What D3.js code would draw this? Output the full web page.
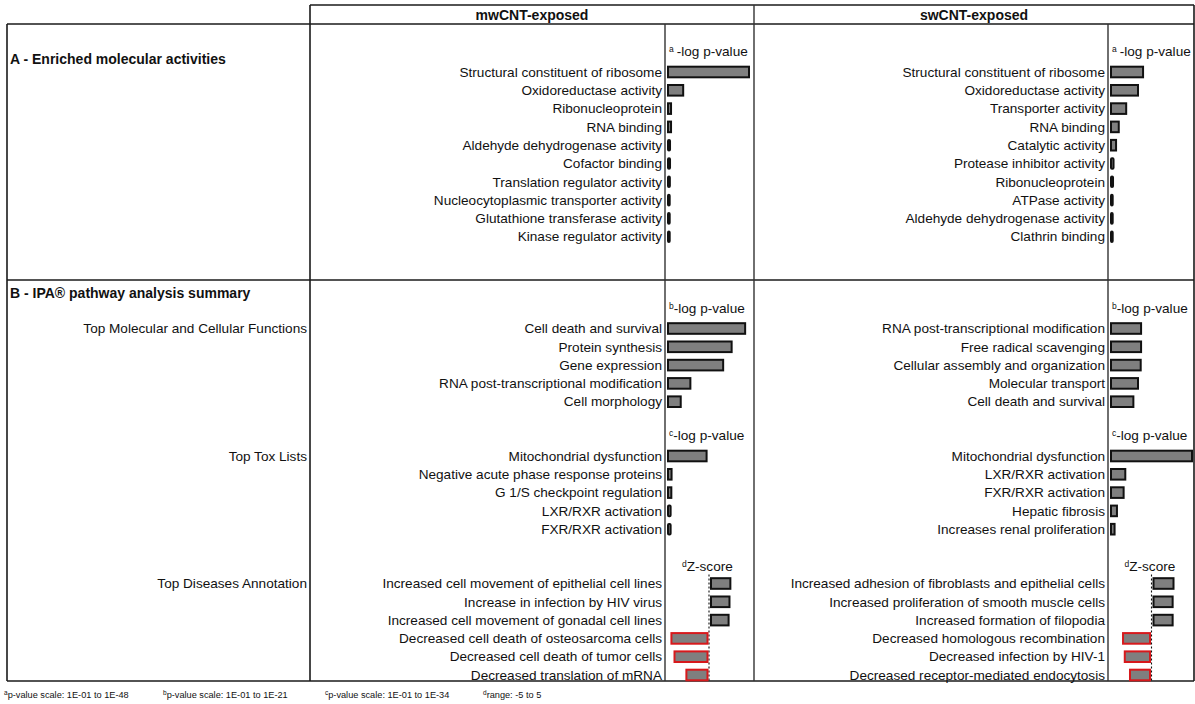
<!DOCTYPE html>
<html>
<head>
<meta charset="utf-8">
<script src="https://cdn.jsdelivr.net/npm/d3@7"></script>
<style>
  html, body { margin: 0; padding: 0; background: #fff; }
  svg { display: block; font-family: "Liberation Sans", Arial, sans-serif; }
</style>
</head>
<body>
<svg id="chart" width="1195" height="704"></svg>
<script>
// ---- Data ----
// A: enriched molecular activities (-log p-value)
const molLabelsMw = ["Structural constituent of ribosome", "Oxidoreductase activity", "Ribonucleoprotein",
  "RNA binding", "Aldehyde dehydrogenase activity", "Cofactor binding", "Translation regulator activity",
  "Nucleocytoplasmic transporter activity", "Glutathione transferase activity", "Kinase regulator activity"];
const molValuesMw = [48, 9, 1.8, 1.8, 1.2, 1.2, 1.1, 1.0, 1.0, 1.0];
const molLabelsSw = ["Structural constituent of ribosome", "Oxidoreductase activity", "Transporter activity",
  "RNA binding", "Catalytic activity", "Protease inhibitor activity", "Ribonucleoprotein",
  "ATPase activity", "Aldehyde dehydrogenase activity", "Clathrin binding"];
const molValuesSw = [19, 16, 9, 4.6, 3, 1.5, 1.2, 1.0, 1.0, 1.0];

// B: IPA top molecular and cellular functions (-log p-value)
const funcLabelsMw = ["Cell death and survival", "Protein synthesis", "Gene expression",
  "RNA post-transcriptional modification", "Cell morphology"];
const funcValuesMw = [20, 16.5, 14.3, 5.8, 3.3];
const funcLabelsSw = ["RNA post-transcriptional modification", "Free radical scavenging",
  "Cellular assembly and organization", "Molecular transport", "Cell death and survival"];
const funcValuesSw = [7.8, 7.8, 7.7, 7.0, 5.8];

// B: top tox lists (-log p-value)
const toxLabelsMw = ["Mitochondrial dysfunction", "Negative acute phase response proteins",
  "G 1/S checkpoint regulation", "LXR/RXR activation", "FXR/RXR activation"];
const toxValuesMw = [16.2, 1.5, 1.4, 1.1, 1.1];
const toxLabelsSw = ["Mitochondrial dysfunction", "LXR/RXR activation", "FXR/RXR activation",
  "Hepatic fibrosis", "Increases renal proliferation"];
const toxValuesSw = [34, 6, 5.3, 2.5, 1.5];

// B: top diseases annotation (Z-score)
const disLabelsMw = ["Increased cell movement of epithelial cell lines", "Increase in infection by HIV virus",
  "Increased cell movement of gonadal cell lines", "Decreased cell death of osteosarcoma cells",
  "Decreased cell death of tumor cells", "Decreased translation of mRNA"];
const disZMw = [2.2, 2.1, 2.0, -4.1, -3.75, -2.4];
const disLabelsSw = ["Increased adhesion of fibroblasts and epithelial cells", "Increased proliferation of smooth muscle cells",
  "Increased formation of filopodia", "Decreased homologous recombination",
  "Decreased infection by HIV-1", "Decreased receptor-mediated endocytosis"];
const disZSw = [2.3, 2.2, 2.2, -3.1, -2.9, -2.3];

// Scale extents from the footnotes
const pMaxA = 48, pMaxB = 21, pMaxC = 34, zRange = [-5, 5];
const footnotes = [
  {sup: "a", text: "p-value scale: 1E-01 to 1E-48"},
  {sup: "b", text: "p-value scale: 1E-01 to 1E-21"},
  {sup: "c", text: "p-value scale: 1E-01 to 1E-34"},
  {sup: "d", text: "range: -5 to 5"}
];

// ---- Layout ----
const svg = d3.select("#chart");
const T = {left: 7, right: 1194, top: 24, headTop: 5, bottom: 681, split: 280};
const colX = {labelEnd: 310, mwAxis: 665, mid: 754, swAxis: 1108};
const step = 18.3;
const ink = "#111";
const labelSize = 13.6, titleSize = 14;

// grid lines of the table
const gridLines = [
  [colX.labelEnd, T.headTop, T.right, T.headTop],
  [colX.labelEnd, T.headTop, colX.labelEnd, T.bottom],
  [T.right, T.headTop, T.right, T.bottom],
  [T.left, T.top, T.right, T.top],
  [T.left, T.top, T.left, T.bottom],
  [T.left, T.bottom, T.right, T.bottom],
  [T.left, T.split, T.right, T.split],
  [colX.mid, T.headTop, colX.mid, T.bottom],
  [colX.mwAxis, T.top, colX.mwAxis, T.bottom],
  [colX.swAxis, T.top, colX.swAxis, T.bottom]
];
svg.append("g").selectAll("line").data(gridLines).join("line")
  .attr("x1", d => d[0]).attr("y1", d => d[1]).attr("x2", d => d[2]).attr("y2", d => d[3])
  .attr("stroke", (d, i) => i >= 7 ? "#333" : "#1a1a1a")
  .attr("stroke-width", (d, i) => i >= 7 ? 1.4 : 1.6);

// column headers
svg.append("text").attr("x", (colX.labelEnd + colX.mid) / 2).attr("y", 19.5)
  .attr("text-anchor", "middle").attr("font-size", titleSize).attr("font-weight", "bold").attr("fill", ink)
  .text("mwCNT-exposed");
svg.append("text").attr("x", (colX.mid + T.right) / 2).attr("y", 19.5)
  .attr("text-anchor", "middle").attr("font-size", titleSize).attr("font-weight", "bold").attr("fill", ink)
  .text("swCNT-exposed");

// section titles
svg.append("text").attr("x", 10).attr("y", 64).attr("font-size", titleSize).attr("font-weight", "bold")
  .attr("fill", ink).text("A - Enriched molecular activities");
svg.append("text").attr("x", 10).attr("y", 298).attr("font-size", titleSize).attr("font-weight", "bold")
  .attr("fill", ink).text("B - IPA® pathway analysis summary");

// row group labels in the left column
[["Top Molecular and Cellular Functions", 328.5], ["Top Tox Lists", 456], ["Top Diseases Annotation", 583.5]]
  .forEach(([t, y]) => {
    svg.append("text").attr("x", 307).attr("y", y).attr("dy", "0.35em").attr("text-anchor", "end")
      .attr("font-size", labelSize).attr("fill", ink).text(t);
  });

// ---- Panels ----
function yBand(labels, y0) {
  return d3.scaleBand().domain(labels)
    .range([y0 - step / 2, y0 - step / 2 + labels.length * step]).paddingInner(0.42).paddingOuter(0.21);
}

function header(x, y, sup, text, supGap) {
  const t = svg.append("text").attr("x", x).attr("y", y).attr("font-size", labelSize).attr("fill", ink);
  t.append("tspan").attr("font-size", 8.5).attr("dy", -4).text(sup);
  t.append("tspan").attr("dy", 4).attr("dx", supGap).text(text);
}

function labelsAt(labels, y, xEnd) {
  svg.append("g").selectAll("text").data(labels).join("text")
    .attr("x", xEnd).attr("y", d => y(d) + y.bandwidth() / 2).attr("dy", "0.35em")
    .attr("text-anchor", "end").attr("font-size", labelSize).attr("fill", ink).text(d => d);
}

function pPanel(labels, values, y0, axisX, maxP, sup, supGap) {
  const y = yBand(labels, y0);
  const x = d3.scaleLinear().domain([0, maxP]).range([axisX + 3, axisX + 84]);
  labelsAt(labels, y, axisX - 3);
  header(axisX + 4, y0 - 16, sup, "-log p-value", supGap);
  svg.append("g").selectAll("rect").data(labels).join("rect")
    .attr("x", x(0)).attr("y", d => y(d))
    .attr("width", (d, i) => x(values[i]) - x(0)).attr("height", y.bandwidth())
    .attr("rx", (d, i) => x(values[i]) - x(0) < 3 ? 1 : 0)
    .attr("fill", "#7f7f7f").attr("stroke", "#111").attr("stroke-width", 2);
}

function zPanel(labels, zs, y0, axisX, rightX) {
  const y = yBand(labels, y0);
  const x = d3.scaleLinear().domain(zRange).range([axisX, rightX]);
  labelsAt(labels, y, axisX - 3);
  header(x(0) - 27, y0 - 13, "d", "Z-score", 0);
  svg.append("line").attr("x1", x(0)).attr("x2", x(0)).attr("y1", y0 - 9).attr("y2", T.bottom)
    .attr("stroke", "#111").attr("stroke-width", 1.1).attr("stroke-dasharray", "2,2");
  svg.append("g").selectAll("rect").data(labels).join("rect")
    .attr("x", (d, i) => x(Math.min(0, zs[i])) + (zs[i] < 0 ? -1.5 : 2))
    .attr("y", d => y(d))
    .attr("width", (d, i) => Math.abs(x(zs[i]) - x(0)))
    .attr("height", y.bandwidth())
    .attr("fill", "#7f7f7f")
    .attr("stroke", (d, i) => zs[i] < 0 ? "#d7191c" : "#111")
    .attr("stroke-width", 2);
}

// Section A
pPanel(molLabelsMw, molValuesMw, 72, colX.mwAxis, pMaxA, "a", 3);
pPanel(molLabelsSw, molValuesSw, 72, colX.swAxis, pMaxA, "a", 3);
// Section B
pPanel(funcLabelsMw, funcValuesMw, 328.5, colX.mwAxis, pMaxB, "b", 0);
pPanel(funcLabelsSw, funcValuesSw, 328.5, colX.swAxis, pMaxB, "b", 0);
pPanel(toxLabelsMw, toxValuesMw, 456, colX.mwAxis, pMaxC, "c", 0);
pPanel(toxLabelsSw, toxValuesSw, 456, colX.swAxis, pMaxC, "c", 0);
zPanel(disLabelsMw, disZMw, 583.5, colX.mwAxis, 753);
zPanel(disLabelsSw, disZSw, 583.5, colX.swAxis, 1195);

// footnotes
const footX = [4, 163, 325, 483];
footnotes.forEach((f, i) => {
  const t = svg.append("text").attr("x", footX[i]).attr("y", 698).attr("font-size", 9.2).attr("fill", ink);
  t.append("tspan").attr("font-size", 6.5).attr("dy", -3).text(f.sup);
  t.append("tspan").attr("dy", 3).text(f.text);
});
</script>
</body>
</html>
